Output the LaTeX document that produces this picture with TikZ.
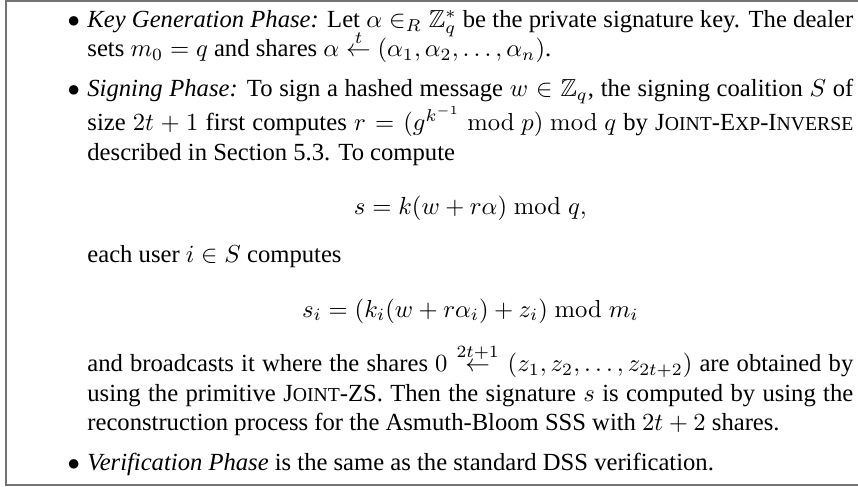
\documentclass[tikz,border=0pt]{standalone}
\usepackage[no-math]{fontspec}
\setmainfont{Liberation Serif}
\usepackage{amsmath,amssymb}
\usepackage{tikz}

% small capitals faked by hand (the text font has none)
\newcommand{\smcap}[2]{#1{\footnotesize #2}}
\newcommand{\jointexpinv}{\smcap{J}{OINT}-\smcap{E}{XP}-\smcap{I}{NVERSE}}
\newcommand{\jointzs}{\smcap{J}{OINT}-ZS}
% share arrow with its threshold on top
\newcommand{\sharesto}[1]{\stackrel{#1}{\leftarrow}}

\begin{document}
\begin{tikzpicture}[x=1pt,y=1pt,
	frame/.style={draw=black!55,line width=0.8pt},
	phases/.style={anchor=north west,inner sep=0pt}]
	\useasboundingbox (0,0) rectangle (348.4,-197.7);
	% open box, cut at the right edge
	\draw[frame] (348.4,-0.3) -- (2.44,-0.3) -- (2.44,-197.1) -- (348.4,-197.1);

	\node[phases] (scheme) at (0,-4.0) {%
		\begin{minipage}[t]{346.3pt}
		\fontsize{10pt}{12pt}\selectfont
		\setlength{\abovedisplayskip}{10.2pt}\setlength{\belowdisplayskip}{7.4pt}%
		\begin{list}{$\bullet$}{%
			\setlength{\leftmargin}{35.3pt}\setlength{\labelsep}{3pt}%
			\setlength{\labelwidth}{20pt}\setlength{\topsep}{0pt}%
			\setlength{\partopsep}{0pt}\setlength{\itemsep}{4pt}%
			\setlength{\parsep}{0pt}\setlength{\rightmargin}{0pt}}
		\item \emph{Key Generation Phase:} Let $\alpha \in_R \mathbb{Z}_q^*$ be the private signature key. The dealer sets $m_0 = q$ and shares $\alpha \mathrel{\smash{\sharesto{t}}} (\alpha_1, \alpha_2, \ldots, \alpha_n)$.
		\item \emph{Signing Phase:} To sign a hashed message $w \in \mathbb{Z}_q$, the signing coalition $S$ of size $2t+1$ first computes $r = (g^{k^{-1}} \bmod p) \bmod q$ by \jointexpinv{} described in Section 5.3. To compute
		\[ s = k(w + r\alpha) \bmod q, \]
		each user $i \in S$ computes
		\[ s_i = (k_i(w + r\alpha_i) + z_i) \bmod m_i \]
		and broadcasts it where the shares $0 \sharesto{2t+1} (z_1, z_2, \ldots, z_{2t+2})$ are obtained by using the primitive \jointzs. Then the signature $s$ is computed by using the reconstruction process for the Asmuth-Bloom SSS with $2t+2$ shares.
		\item \emph{Verification Phase} is the same as the standard DSS verification.
		\end{list}
		\end{minipage}};
\end{tikzpicture}
\end{document}
